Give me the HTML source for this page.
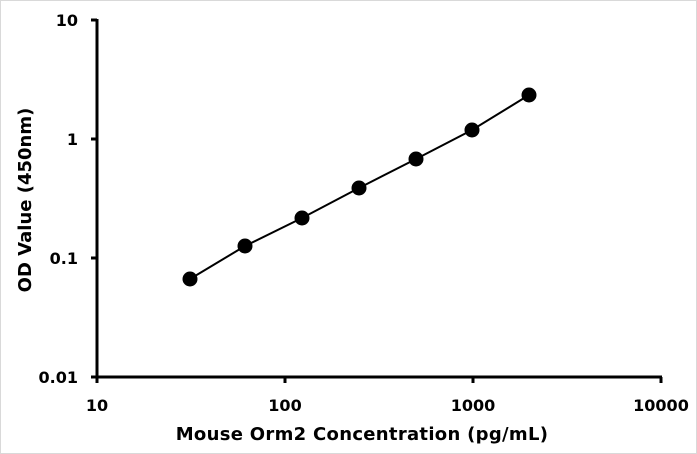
<!DOCTYPE html>
<html><head><style>
html,body{margin:0;padding:0;background:#fff;}
svg{display:block;}
text{font-family:"DejaVu Sans","Liberation Sans",sans-serif;font-weight:bold;fill:#000;}
</style></head><body>
<svg width="697" height="454" viewBox="0 0 697 454">
<rect x="0.5" y="0.5" width="696" height="453" fill="#fff" stroke="#d9d9d9"/>
<g stroke="#000" stroke-width="3" fill="none">
<line x1="97" y1="19" x2="97" y2="378"/>
<line x1="96" y1="377" x2="662" y2="377"/>
<line x1="91" y1="20" x2="97" y2="20"/>
<line x1="91" y1="139" x2="97" y2="139"/>
<line x1="91" y1="258" x2="97" y2="258"/>
<line x1="91" y1="377" x2="97" y2="377"/>
<line x1="97" y1="377" x2="97" y2="383"/>
<line x1="285" y1="377" x2="285" y2="383"/>
<line x1="473" y1="377" x2="473" y2="383"/>
<line x1="661" y1="377" x2="661" y2="383"/>
</g>
<polyline points="190,279 245,246 302,218 359,188 416,159 472,130 529,95" fill="none" stroke="#000" stroke-width="2"/>
<g fill="#000">
<circle cx="190" cy="279" r="7.5"/><circle cx="245" cy="246" r="7.5"/><circle cx="302" cy="218" r="7.5"/><circle cx="359" cy="188" r="7.5"/><circle cx="416" cy="159" r="7.5"/><circle cx="472" cy="130" r="7.5"/><circle cx="529" cy="95" r="7.5"/>
</g>
<g font-size="16" text-anchor="end">
<text x="78" y="26">10</text>
<text x="78" y="145">1</text>
<text x="78" y="264">0.1</text>
<text x="78" y="383">0.01</text>
</g>
<g font-size="16" text-anchor="middle">
<text x="97" y="411">10</text>
<text x="285" y="411">100</text>
<text x="473" y="411">1000</text>
<text x="661" y="411">10000</text>
</g>
<text x="362" y="440" font-size="18" letter-spacing="0.3" text-anchor="middle">Mouse Orm2 Concentration (pg/mL)</text>
<text transform="translate(31,200) rotate(-90)" font-size="18" text-anchor="middle">OD Value (450nm)</text>
</svg>
</body></html>
